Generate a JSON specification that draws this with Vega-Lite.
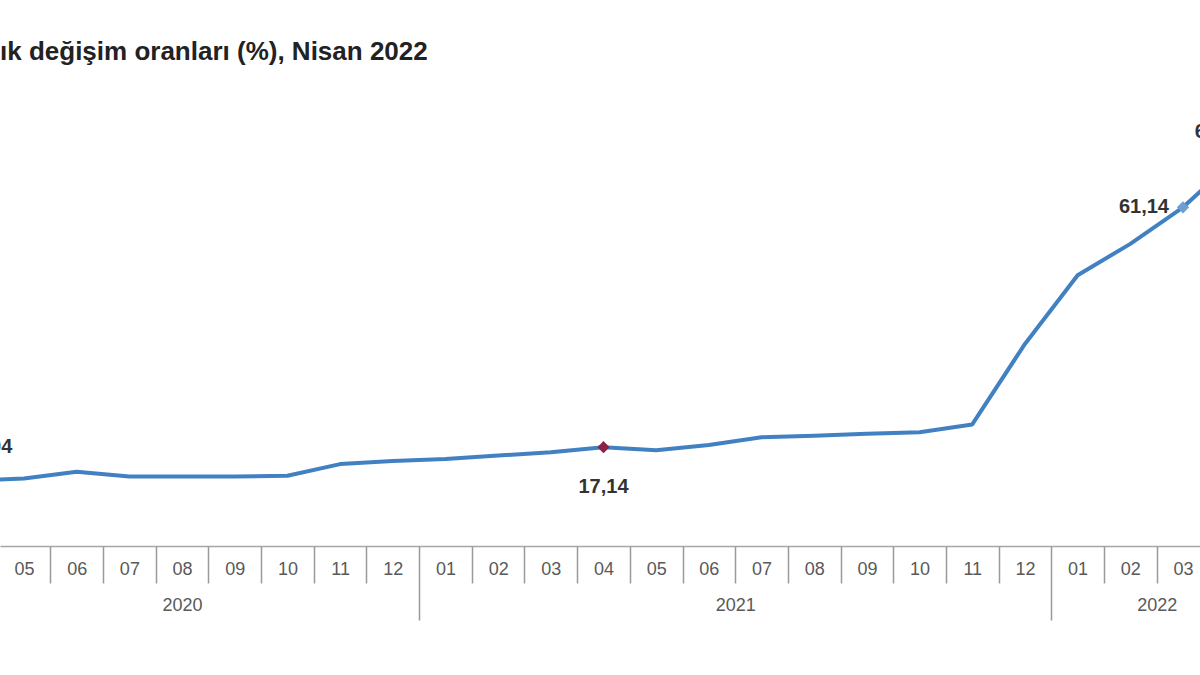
{
  "$schema": "https://vega.github.io/schema/vega-lite/v6.json",
  "width": 1200,
  "height": 436,
  "autosize": {"type": "none"},
  "padding": {"left": 0, "right": 0, "top": 110, "bottom": 129},
  "background": "white",
  "title": {
    "text": "ık değişim oranları (%), Nisan 2022",
    "anchor": "start",
    "frame": "group",
    "font": "Liberation Sans",
    "fontSize": 26,
    "fontWeight": "bold",
    "color": "#222222",
    "offset": 45
  },
  "data": {
    "values": [
      {"i": 0, "ay": "2020-04", "deger": 10.94, "etiket": "10,94"},
      {"i": 1, "ay": "2020-05", "deger": 11.39},
      {"i": 2, "ay": "2020-06", "deger": 12.62},
      {"i": 3, "ay": "2020-07", "deger": 11.76},
      {"i": 4, "ay": "2020-08", "deger": 11.77},
      {"i": 5, "ay": "2020-09", "deger": 11.75},
      {"i": 6, "ay": "2020-10", "deger": 11.89},
      {"i": 7, "ay": "2020-11", "deger": 14.03},
      {"i": 8, "ay": "2020-12", "deger": 14.60},
      {"i": 9, "ay": "2021-01", "deger": 14.97},
      {"i": 10, "ay": "2021-02", "deger": 15.61},
      {"i": 11, "ay": "2021-03", "deger": 16.19},
      {"i": 12, "ay": "2021-04", "deger": 17.14, "etiket": "17,14"},
      {"i": 13, "ay": "2021-05", "deger": 16.59},
      {"i": 14, "ay": "2021-06", "deger": 17.53},
      {"i": 15, "ay": "2021-07", "deger": 18.95},
      {"i": 16, "ay": "2021-08", "deger": 19.25},
      {"i": 17, "ay": "2021-09", "deger": 19.58},
      {"i": 18, "ay": "2021-10", "deger": 19.89},
      {"i": 19, "ay": "2021-11", "deger": 21.31},
      {"i": 20, "ay": "2021-12", "deger": 36.08},
      {"i": 21, "ay": "2022-01", "deger": 48.69},
      {"i": 22, "ay": "2022-02", "deger": 54.44},
      {"i": 23, "ay": "2022-03", "deger": 61.14, "etiket": "61,14"},
      {"i": 24, "ay": "2022-04", "deger": 69.97, "etiket": "69,97"}
    ]
  },
  "layer": [
    {
      "mark": {"type": "line", "color": "#4181c2", "strokeWidth": 4, "interpolate": "linear", "strokeJoin": "round", "clip": true},
      "encoding": {
        "x": {
          "field": "i", "type": "quantitative",
          "scale": {"domain": [0.544, 23.323], "nice": false, "zero": false},
          "axis": {
            "orient": "bottom",
            "values": [1,2,3,4,5,6,7,8,9,10,11,12,13,14,15,16,17,18,19,20,21,22,23],
            "labelExpr": "((datum.value + 3) % 12 + 1) < 10 ? '0' + ((datum.value + 3) % 12 + 1) : '' + ((datum.value + 3) % 12 + 1)",
            "ticks": false, "domain": true, "domainColor": "#a6a6a6", "domainWidth": 1.5,
            "labelFont": "Liberation Sans", "labelFontSize": 18, "labelColor": "#595959",
            "labelPadding": 14, "labelFlush": false, "labelOverlap": false, "title": null, "grid": false
          }
        },
        "y": {"field": "deger", "type": "quantitative", "scale": {"domain": [-1, 79], "nice": false, "zero": false}, "axis": null}
      }
    },
    {
      "transform": [{"filter": "datum.i == 12"}],
      "mark": {"type": "point", "shape": "diamond", "filled": true, "color": "#8b2346", "size": 150, "opacity": 1},
      "encoding": {
        "x": {
          "field": "i", "type": "quantitative",
          "axis": {
            "orient": "bottom",
            "values": [0.5,1.5,2.5,3.5,4.5,5.5,6.5,7.5,9.5,10.5,11.5,12.5,13.5,14.5,15.5,16.5,17.5,18.5,19.5,21.5,22.5,23.5],
            "labels": false, "domain": false, "ticks": true, "tickSize": 37, "tickColor": "#9a9a9a", "tickWidth": 1.5,
            "title": null, "grid": false
          }
        },
        "y": {"field": "deger", "type": "quantitative"}
      }
    },
    {
      "transform": [{"filter": "datum.i == 23"}],
      "mark": {"type": "point", "shape": "diamond", "filled": true, "color": "#6f9fd2", "size": 150, "opacity": 1},
      "encoding": {
        "x": {
          "field": "i", "type": "quantitative",
          "axis": {
            "orient": "bottom",
            "values": [4, 14.5, 22.5],
            "labelExpr": "datum.value < 9 ? '2020' : datum.value < 21 ? '2021' : '2022'",
            "ticks": false, "domain": false,
            "labelFont": "Liberation Sans", "labelFontSize": 18, "labelColor": "#595959",
            "labelPadding": 50, "labelFlush": false, "labelOverlap": false, "title": null, "grid": false
          }
        },
        "y": {"field": "deger", "type": "quantitative"}
      }
    },
    {
      "transform": [{"filter": "datum.i == 12"}],
      "mark": {"type": "text", "font": "Liberation Sans", "fontSize": 20, "fontWeight": "bold", "color": "#333333", "align": "center", "baseline": "middle", "dy": 40},
      "encoding": {
        "x": {
          "field": "i", "type": "quantitative",
          "axis": {
            "orient": "bottom",
            "values": [8.5, 20.5],
            "labels": false, "domain": false, "ticks": true, "tickSize": 74, "tickColor": "#9a9a9a", "tickWidth": 1.5,
            "title": null, "grid": false
          }
        },
        "y": {"field": "deger", "type": "quantitative"},
        "text": {"field": "etiket"}
      }
    },
    {
      "transform": [{"filter": "datum.i == 23"}],
      "mark": {"type": "text", "font": "Liberation Sans", "fontSize": 20, "fontWeight": "bold", "color": "#333333", "align": "right", "baseline": "middle", "dx": -14, "dy": 0},
      "encoding": {
        "x": {"field": "i", "type": "quantitative", "axis": null},
        "y": {"field": "deger", "type": "quantitative"},
        "text": {"field": "etiket"}
      }
    },
    {
      "transform": [{"filter": "datum.i == 0"}],
      "mark": {"type": "text", "font": "Liberation Sans", "fontSize": 20, "fontWeight": "bold", "color": "#333333", "align": "right", "baseline": "middle", "dx": 41, "dy": -34, "clip": true},
      "encoding": {
        "x": {"field": "i", "type": "quantitative", "axis": null},
        "y": {"field": "deger", "type": "quantitative"},
        "text": {"field": "etiket"}
      }
    },
    {
      "transform": [{"filter": "datum.i == 24"}],
      "mark": {"type": "text", "font": "Liberation Sans", "fontSize": 20, "fontWeight": "bold", "color": "#333333", "align": "left", "baseline": "middle", "dx": -41, "dy": -27, "clip": true},
      "encoding": {
        "x": {"field": "i", "type": "quantitative", "axis": null},
        "y": {"field": "deger", "type": "quantitative"},
        "text": {"field": "etiket"}
      }
    }
  ],
  "resolve": {"axis": {"x": "independent"}},
  "config": {"view": {"stroke": null}, "axis": {"grid": false}}
}
